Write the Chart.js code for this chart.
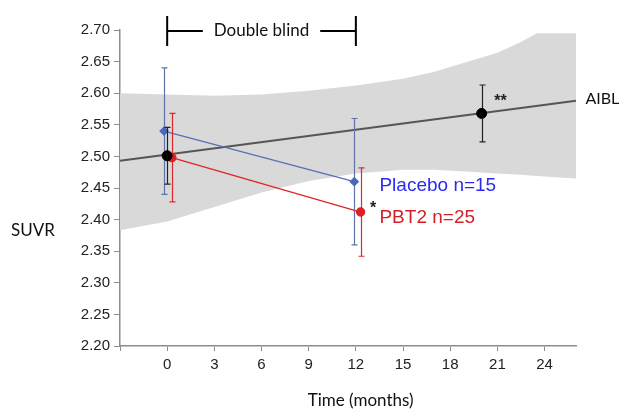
<!DOCTYPE html>
<html><head><meta charset="utf-8">
<script src="https://cdn.jsdelivr.net/npm/chart.js@4"></script>
<style>html,body{margin:0;padding:0;background:#fff}</style>
</head><body>
<canvas id="c" width="619" height="410"></canvas>
<script>
// ---- data ----
const xTicks = [-3, 0, 3, 6, 9, 12, 15, 18, 21, 24];
const xTickLabels = ['', '0', '3', '6', '9', '12', '15', '18', '21', '24'];
const yTicks = [2.20, 2.25, 2.30, 2.35, 2.40, 2.45, 2.50, 2.55, 2.60, 2.65, 2.70];

const bandX     = [-3, 0, 3, 6, 9, 12, 15, 17, 19, 21, 22.5, 23.5, 26];
const bandUpper = [2.600, 2.598, 2.596, 2.598, 2.604, 2.612, 2.623, 2.634, 2.649, 2.664, 2.681, 2.695, 2.695];
const bandLower = [2.383, 2.397, 2.420, 2.443, 2.461, 2.473, 2.479, 2.479, 2.476, 2.473, 2.471, 2.469, 2.465];

const aiblLineX = [-3, 26];
const aiblLineY = [2.493, 2.588];

const aiblX   = [0, 20];
const aiblY   = [2.501, 2.568];
const aiblErr = [0.045, 0.045];

const placeboX   = [-0.2, 11.9];
const placeboY   = [2.540, 2.460];
const placeboErr = [0.10, 0.10];

const pbt2X   = [0.3, 12.3];
const pbt2Y   = [2.498, 2.412];
const pbt2Err = [0.07, 0.07];

const pts = (xs, ys) => xs.map((x, i) => ({x, y: ys[i]}));

const errorBars = {
  id: 'errorBars',
  beforeDatasetDraw(chart, args) {
    const ds = chart.data.datasets[args.index];
    if (!ds.errors) return;
    const ctx = chart.ctx, ys = chart.scales.y;
    ctx.save();
    ctx.strokeStyle = ds.errorColor;
    ctx.lineWidth = 1.2;
    const cap = 3;
    args.meta.data.forEach((p, i) => {
      const v = ds.data[i].y, e = ds.errors[i];
      const x = Math.round(p.x) + 0.5;
      const y1 = ys.getPixelForValue(v + e), y2 = ys.getPixelForValue(v - e);
      ctx.beginPath();
      ctx.moveTo(x, y1); ctx.lineTo(x, y2);
      ctx.moveTo(x - cap, y1); ctx.lineTo(x + cap, y1);
      ctx.moveTo(x - cap, y2); ctx.lineTo(x + cap, y2);
      ctx.stroke();
    });
    ctx.restore();
  }
};

const annotations = {
  id: 'annotations',
  afterDraw(chart) {
    const ctx = chart.ctx, xs = chart.scales.x, ys = chart.scales.y;
    const X = v => xs.getPixelForValue(v), Y = v => ys.getPixelForValue(v);
    ctx.save();
    // Double blind bracket
    const x0 = X(0), x1 = X(12), yb = Y(2.70) + 1;
    ctx.font = '17px Lato';
    ctx.fillStyle = '#111';
    ctx.textAlign = 'center';
    ctx.textBaseline = 'middle';
    const label = 'Double blind';
    const tw = ctx.measureText(label).width;
    const xc = (x0 + x1) / 2;
    ctx.fillText(label, xc, yb);
    ctx.strokeStyle = '#000';
    ctx.lineWidth = 2;
    ctx.beginPath();
    ctx.moveTo(x0, yb - 15); ctx.lineTo(x0, yb + 15);
    ctx.moveTo(x1, yb - 15); ctx.lineTo(x1, yb + 15);
    ctx.moveTo(x0, yb); ctx.lineTo(xc - tw / 2 - 11, yb);
    ctx.moveTo(xc + tw / 2 + 11, yb); ctx.lineTo(x1, yb);
    ctx.stroke();

    // series labels
    ctx.textAlign = 'left';
    ctx.font = '19px "Liberation Sans", Arial, sans-serif';
    ctx.fillStyle = '#2b2bf0';
    ctx.fillText('Placebo n=15', X(13.5), Y(2.453));
    ctx.fillStyle = '#d42027';
    ctx.fillText('PBT2 n=25', X(13.5), Y(2.403));

    // asterisks
    ctx.fillStyle = '#222';
    ctx.font = 'bold 16px "Liberation Sans", Arial, sans-serif';
    ctx.textBaseline = 'alphabetic';
    ctx.textAlign = 'center';
    ctx.fillText('*', X(13.1), Y(2.424) + 9);
    ctx.fillText('**', X(21.2), Y(2.594) + 9);

    // AIBL label
    ctx.textBaseline = 'middle';
    ctx.textAlign = 'left';
    ctx.fillStyle = '#111';
    ctx.font = '16px Lato';
    ctx.fillText('AIBL', X(26.6), Y(2.591));

    // axis titles
    ctx.font = '17px Lato';
    ctx.textAlign = 'center';
    ctx.fillText('SUVR', chart.chartArea.left - 87, Y(2.383));
    ctx.fillText('Time (months)', X(12.3), chart.chartArea.bottom + 55);
    ctx.restore();
  }
};

Chart.defaults.font.family = '"Liberation Sans", Arial, sans-serif';

new Chart(document.getElementById('c'), {
  type: 'scatter',
  data: {
    datasets: [
      { data: pts(bandX, bandUpper), showLine: true, fill: '+1', backgroundColor: '#d9d9d9',
        borderWidth: 0, pointRadius: 0, tension: 0, order: 6 },
      { data: pts(bandX, bandLower), showLine: true, fill: false, borderWidth: 0,
        pointRadius: 0, tension: 0, order: 5 },
      { data: pts(aiblLineX, aiblLineY), showLine: true, borderColor: '#555', borderWidth: 2,
        pointRadius: 0, order: 4 },
      { data: pts(placeboX, placeboY), showLine: true, borderColor: '#5570b5', borderWidth: 1.3,
        pointStyle: 'rectRot', pointRadius: 4, backgroundColor: '#4a68b8', pointBorderColor: '#4a68b8',
        errors: placeboErr, errorColor: '#5f73a8', order: 3 },
      { data: pts(pbt2X, pbt2Y), showLine: true, borderColor: '#e02428', borderWidth: 1.3,
        pointStyle: 'circle', pointRadius: 4, backgroundColor: '#dd1f26', pointBorderColor: '#dd1f26',
        errors: pbt2Err, errorColor: '#e0282c', order: 2 },
      { data: pts(aiblX, aiblY), showLine: false, pointStyle: 'circle', pointRadius: 5,
        backgroundColor: '#000', pointBorderColor: '#000',
        errors: aiblErr, errorColor: '#222', order: 1 }
    ]
  },
  options: {
    responsive: false,
    animation: false,
    devicePixelRatio: 1,
    layout: { padding: { left: 0, right: 43, top: 30, bottom: 0 } },
    plugins: { legend: { display: false }, tooltip: { enabled: false } },
    scales: {
      x: {
        type: 'linear', min: -3, max: 26,
        afterBuildTicks: s => { s.ticks = xTicks.map(v => ({value: v})); },
        afterFit: s => { s.height = 64; },
        ticks: { padding: 5, color: '#222', font: { size: 15 },
          callback: (v) => { const i = xTicks.indexOf(v); return i >= 0 ? xTickLabels[i] : ''; } },
        grid: { drawOnChartArea: false, tickLength: 5, color: '#8c8c8c', lineWidth: 1 },
        border: { color: '#8c8c8c', width: 1.5 }
      },
      y: {
        type: 'linear', min: 2.20, max: 2.70,
        afterBuildTicks: s => { s.ticks = yTicks.map(v => ({value: v})); },
        afterFit: s => { s.width = 120; },
        ticks: { padding: 4, color: '#222', font: { size: 15 }, callback: v => Number(v).toFixed(2) },
        grid: { drawOnChartArea: false, tickLength: 6, color: '#8c8c8c', lineWidth: 1 },
        border: { color: '#8c8c8c', width: 1.5 }
      }
    }
  },
  plugins: [errorBars, annotations]
});
</script>
</body></html>
